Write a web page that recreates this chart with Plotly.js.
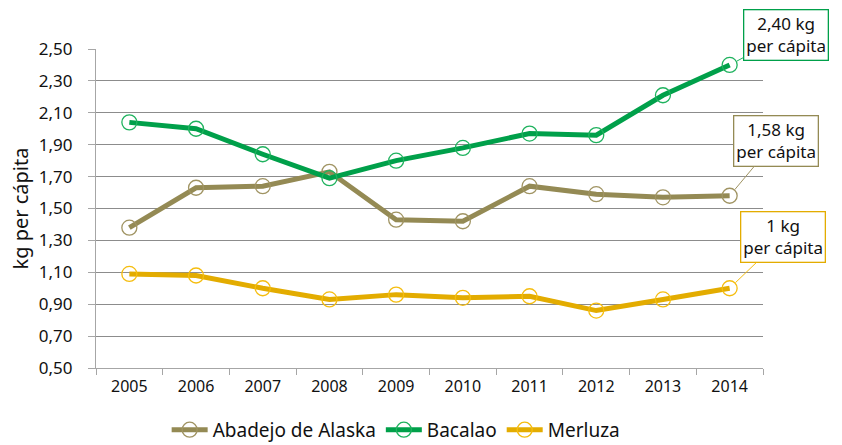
<!DOCTYPE html>
<html>
<head>
<meta charset="utf-8">
<script src="https://cdn.plot.ly/plotly-3.0.1.min.js"></script>
<style>
  html, body { margin: 0; padding: 0; background: #fff; }
  #plot { width: 842px; height: 445px; }
</style>
</head>
<body>
<div id="plot"></div>
<script>
// --- Data ---
const years = ["2005", "2006", "2007", "2008", "2009", "2010", "2011", "2012", "2013", "2014"];
const abadejo = [1.38, 1.63, 1.64, 1.73, 1.43, 1.42, 1.64, 1.59, 1.57, 1.58];
const bacalao = [2.04, 2.00, 1.84, 1.69, 1.80, 1.88, 1.97, 1.96, 2.21, 2.40];
const merluza = [1.09, 1.08, 1.00, 0.93, 0.96, 0.94, 0.95, 0.86, 0.93, 1.00];

const seriesNames = ["Abadejo de Alaska", "Bacalao", "Merluza"];
const lineColors = ["#948a54", "#00a04a", "#e3ac00"];
const markerColors = ["#a09463", "#1fb25e", "#f5bd0f"];
const labels = ["1,58 kg<br>per cápita", "2,40 kg<br>per cápita", "1 kg<br>per cápita"];

const font = "Noto Sans";

const allValues = [abadejo, bacalao, merluza];

const traces = allValues.map((vals, i) => ({
  type: "scatter",
  mode: "lines+markers",
  x: years,
  y: vals,
  name: seriesNames[i],
  line: { color: lineColors[i], width: 5 },
  marker: {
    symbol: "circle-open",
    size: 15,
    color: markerColors[i],
    line: { width: 1.3, color: markerColors[i] }
  }
}));

// callout boxes next to the last point of each series
const offsets = [[46, -55], [56, -30], [53, -51]];
const annotations = allValues.map((vals, i) => ({
  x: years.length - 1,
  y: vals[vals.length - 1],
  xref: "x",
  yref: "y",
  text: labels[i],
  showarrow: true,
  arrowhead: 0,
  arrowwidth: 1,
  arrowcolor: markerColors[i],
  standoff: 8,
  ax: offsets[i][0],
  ay: offsets[i][1],
  bordercolor: lineColors[i],
  borderwidth: 1.3,
  borderpad: 2,
  bgcolor: "#ffffff",
  font: { family: font, size: 17, color: "#111" }
}));

const layout = {
  width: 842,
  height: 445,
  margin: { l: 96, r: 79, t: 49, b: 77 },
  paper_bgcolor: "#fff",
  plot_bgcolor: "#fff",
  separators: ",.",
  font: { family: font, size: 16, color: "#111" },
  showlegend: true,
  legend: {
    orientation: "h",
    x: 0.45, xanchor: "center",
    yref: "container",
    y: 0.034, yanchor: "middle",
    font: { family: font, size: 19, color: "#111" },
    itemwidth: 36
  },
  xaxis: {
    type: "category",
    showgrid: false,
    showline: true,
    linecolor: "#a6a6a6",
    linewidth: 1.3,
    ticks: "outside",
    tickson: "boundaries",
    ticklen: 6,
    tickcolor: "#a6a6a6",
    ticklabelstandoff: 4,
    range: [-0.5, 9.5],
    tickfont: { family: font, size: 16, color: "#111" }
  },
  yaxis: {
    range: [0.5, 2.5],
    tick0: 0.5,
    dtick: 0.2,
    tickformat: ".2f",
    showgrid: true,
    gridcolor: "#8c8c8c",
    gridwidth: 1.3,
    zeroline: false,
    showline: true,
    linecolor: "#a6a6a6",
    linewidth: 1.3,
    ticks: "outside",
    ticklen: 7,
    tickcolor: "#a6a6a6",
    ticklabelstandoff: 12,
    tickfont: { family: font, size: 17, color: "#111" },
    title: { text: "kg per cápita", font: { family: font, size: 20, color: "#111" }, standoff: 4 }
  },
  annotations: annotations
};

Plotly.newPlot("plot", traces, layout, { displayModeBar: false });
</script>
</body>
</html>
